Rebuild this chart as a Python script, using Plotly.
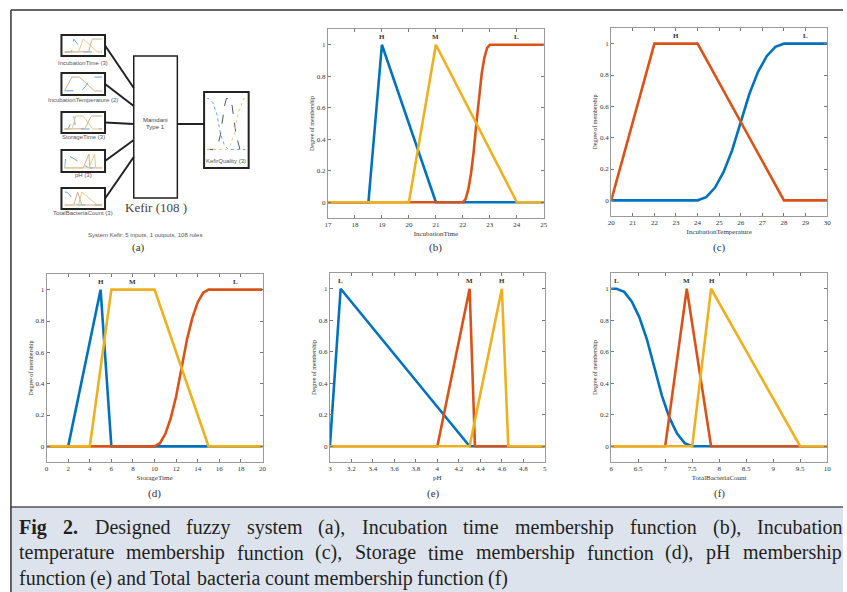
import plotly.graph_objects as go

# ---------------- data ----------------
# (b) IncubationTime
it_range = [17, 25]
it_ticks = [17, 18, 19, 20, 21, 22, 23, 24, 25]
it_ticktext = ["17", "18", "19", "20", "21", "22", "23", "24", "25"]
it_H_x = [17, 18.5, 19, 21, 25]
it_H_y = [0, 0, 1, 0, 0]
it_L_x = [17, 22, 22.1, 22.2, 22.3, 22.4, 22.5, 22.6, 22.7, 22.8, 22.9, 23, 25]
it_L_y = [0, 0, 0.02, 0.08, 0.18, 0.32, 0.5, 0.68, 0.82, 0.92, 0.98, 1, 1]
it_M_x = [17, 20, 21, 24, 25]
it_M_y = [0, 0, 1, 0, 0]
it_labels = ["H", "M", "L"]
it_label_x = [19, 21, 24]

# (c) IncubationTemperature
itemp_range = [20, 30]
itemp_ticks = [20, 21, 22, 23, 24, 25, 26, 27, 28, 29, 30]
itemp_ticktext = ["20", "21", "22", "23", "24", "25", "26", "27", "28", "29", "30"]
itemp_L_x = [20, 24, 24.4, 24.8, 25.2, 25.6, 26, 26.4, 26.8, 27.2, 27.6, 28, 30]
itemp_L_y = [0, 0, 0.02, 0.08, 0.18, 0.32, 0.5, 0.68, 0.82, 0.92, 0.98, 1, 1]
itemp_H_x = [20, 22, 24, 28, 30]
itemp_H_y = [0, 1, 1, 0, 0]
itemp_labels = ["H", "L"]
itemp_label_x = [23, 29]

# (d) StorageTime
st_range = [0, 20]
st_ticks = [0, 2, 4, 6, 8, 10, 12, 14, 16, 18, 20]
st_ticktext = ["0", "2", "4", "6", "8", "10", "12", "14", "16", "18", "20"]
st_H_x = [0, 2, 5, 6, 20]
st_H_y = [0, 0, 1, 0, 0]
st_L_x = [0, 10, 10.5, 11, 11.5, 12, 12.5, 13, 13.5, 14, 14.5, 15, 20]
st_L_y = [0, 0, 0.02, 0.08, 0.18, 0.32, 0.5, 0.68, 0.82, 0.92, 0.98, 1, 1]
st_M_x = [0, 4, 6, 10, 15, 20]
st_M_y = [0, 0, 1, 1, 0, 0]
st_labels = ["H", "M", "L"]
st_label_x = [5, 8, 17.5]

# (e) pH
ph_range = [3, 5]
ph_ticks = [3, 3.2, 3.4, 3.6, 3.8, 4, 4.2, 4.4, 4.6, 4.8, 5]
ph_ticktext = ["3", "3.2", "3.4", "3.6", "3.8", "4", "4.2", "4.4", "4.6", "4.8", "5"]
ph_L_x = [3, 3.1, 4.3, 5]
ph_L_y = [0, 1, 0, 0]
ph_M_x = [3, 4, 4.3, 4.35, 5]
ph_M_y = [0, 0, 1, 0, 0]
ph_H_x = [3, 4.3, 4.6, 4.66, 5]
ph_H_y = [0, 0, 1, 0, 0]
ph_labels = ["L", "M", "H"]
ph_label_x = [3.1, 4.3, 4.6]

# (f) TotalBacteriaCount
tb_range = [6, 10]
tb_ticks = [6, 6.5, 7, 7.5, 8, 8.5, 9, 9.5, 10]
tb_ticktext = ["6", "6.5", "7", "7.5", "8", "8.5", "9", "9.5", "10"]
tb_L_x = [6, 6.1, 6.24, 6.38, 6.52, 6.66, 6.8, 6.94, 7.08, 7.22, 7.36, 7.5, 10]
tb_L_y = [1, 1, 0.98, 0.92, 0.82, 0.68, 0.5, 0.32, 0.18, 0.08, 0.02, 0, 0]
tb_M_x = [6, 7, 7.4, 7.85, 10]
tb_M_y = [0, 0, 1, 0, 0]
tb_H_x = [6, 7.5, 7.85, 9.5, 10]
tb_H_y = [0, 0, 1, 0, 0]
tb_labels = ["L", "M", "H"]
tb_label_x = [6.1, 7.4, 7.86]

# KefirQuality (output thumbnail in panel a)
kq_range = [0, 10]
kq_low_x = [0, 0.5, 1.5, 2.5, 3.5, 4.5, 5.5, 10]
kq_low_y = [1, 1, 0.92, 0.7, 0.3, 0.08, 0, 0]
kq_mid_x = [0, 2.5, 3.5, 4.5, 5, 6, 6.5, 7.5, 8.5, 10]
kq_mid_y = [0, 0, 0.3, 0.85, 1, 1, 0.85, 0.3, 0, 0]
kq_high_x = [0, 5, 6, 7, 8, 9, 9.5, 10]
kq_high_y = [0, 0, 0.08, 0.3, 0.7, 0.92, 1, 1]

y_ticks = [0, 0.2, 0.4, 0.6, 0.8, 1]
y_ticktext = ["0", "0.2", "0.4", "0.6", "0.8", "1"]

input_names = ["IncubationTime (3)", "IncubationTemperature (2)", "StorageTime (3)",
               "pH (3)", "TotalBacteriaCount (3)"]
output_name = "KefirQuality (3)"

caption_lines = [
    ["Fig", "2.", "Designed", "fuzzy", "system", "(a),", "Incubation", "time",
     "membership", "function", "(b),", "Incubation"],
    ["temperature", "membership", "function", "(c),", "Storage", "time", "membership",
     "function", "(d),", "pH", "membership"],
    ["function", "(e)", "and", "Total", "bacteria", "count", "membership", "function", "(f)"],
]

# ---------------- styling / geometry ----------------
W, H = 847, 592
BLUE, ORANGE, YELLOW = "#0072BD", "#D95319", "#EDB120"
SERIF = "Liberation Serif"
SANS = "Liberation Sans"


def px(x):
    return x / W


def py(y):
    return 1 - y / H


def note(x, y, text, font, **kw):
    d = dict(x=px(x), y=py(y), xref="paper", yref="paper", text=text, showarrow=False,
             xanchor="center", yanchor="middle", font=font)
    d.update(kw)
    return d


fig = go.Figure()

panels = [
    dict(box=(327, 545, 29, 218), xr=it_range, tv=it_ticks, tt=it_ticktext, title="IncubationTime",
         series=[(it_H_x, it_H_y, BLUE), (it_L_x, it_L_y, ORANGE), (it_M_x, it_M_y, YELLOW)],
         labels=it_labels, lx=it_label_x, tag="(b)", tagpos=(436, 248)),
    dict(box=(613, 831, 28, 216), xr=itemp_range, tv=itemp_ticks, tt=itemp_ticktext,
         title="IncubationTemperature",
         series=[(itemp_L_x, itemp_L_y, BLUE), (itemp_H_x, itemp_H_y, ORANGE)],
         labels=itemp_labels, lx=itemp_label_x, tag="(c)", tagpos=(722, 248)),
    dict(box=(43, 261, 274, 462), xr=st_range, tv=st_ticks, tt=st_ticktext, title="StorageTime",
         series=[(st_H_x, st_H_y, BLUE), (st_L_x, st_L_y, ORANGE), (st_M_x, st_M_y, YELLOW)],
         labels=st_labels, lx=st_label_x, tag="(d)", tagpos=(152, 493)),
    dict(box=(329, 546, 273, 462), xr=ph_range, tv=ph_ticks, tt=ph_ticktext, title="pH",
         series=[(ph_L_x, ph_L_y, BLUE), (ph_M_x, ph_M_y, ORANGE), (ph_H_x, ph_H_y, YELLOW)],
         labels=ph_labels, lx=ph_label_x, tag="(e)", tagpos=(434, 493)),
    dict(box=(613, 831, 273, 462), xr=tb_range, tv=tb_ticks, tt=tb_ticktext, title="TotalBacteriaCount",
         series=[(tb_L_x, tb_L_y, BLUE), (tb_M_x, tb_M_y, ORANGE), (tb_H_x, tb_H_y, YELLOW)],
         labels=tb_labels, lx=tb_label_x, tag="(f)", tagpos=(722, 493)),
]

layout = dict(
    width=W, height=H, margin=dict(l=0, r=0, t=0, b=0),
    paper_bgcolor="white", plot_bgcolor="white", showlegend=False,
)
annotations = []
shapes = []

tickfont = dict(family=SERIF, size=7, color="#333")
axis_common = dict(ticks="inside", ticklen=3, tickwidth=1, tickcolor="#777", showline=True,
                   linecolor="#9a9a9a", linewidth=1, mirror="ticks", showgrid=False,
                   zeroline=False, tickfont=tickfont, fixedrange=True)

for i, p in enumerate(panels, start=1):
    xn = "x" if i == 1 else f"x{i}"
    yn = "y" if i == 1 else f"y{i}"
    x0, x1, y0, y1 = p["box"]
    layout["xaxis" if i == 1 else f"xaxis{i}"] = dict(
        domain=[px(x0), px(x1)], range=p["xr"], anchor=yn, tickmode="array",
        tickvals=p["tv"], ticktext=p["tt"],
        title=dict(text=p["title"], font=dict(family=SERIF, size=7, color="#333"), standoff=2),
        **axis_common)
    layout["yaxis" if i == 1 else f"yaxis{i}"] = dict(
        domain=[py(y1), py(y0)], range=[-0.1, 1.1], anchor=xn, tickmode="array",
        tickvals=y_ticks, ticktext=y_ticktext,
        title=dict(text="Degree of membership", font=dict(family=SERIF, size=6, color="#333"), standoff=1),
        **axis_common)
    for sx, sy, col in p["series"]:
        fig.add_trace(go.Scatter(x=sx, y=sy, mode="lines", xaxis=xn, yaxis=yn,
                                 line=dict(color=col, width=2.6), hoverinfo="skip"))
    for lab, lxv in zip(p["labels"], p["lx"]):
        annotations.append(dict(x=lxv, y=1.05, xref=xn, yref=yn, text=f"<b>{lab}</b>",
                                xanchor="center", yanchor="middle",
                                showarrow=False, font=dict(family=SERIF, size=7, color="#333")))
    annotations.append(note(p["tagpos"][0], p["tagpos"][1], p["tag"],
                            dict(family=SERIF, size=11, color="#333")))

# ---------------- panel (a): FIS diagram ----------------
in_boxes = [(35, 56), (73, 95), (112, 133), (150, 172), (188, 209)]
in_label_y = [63, 100, 137, 175, 213]
thumb_series = [
    [(it_H_x, it_H_y), (it_L_x, it_L_y), (it_M_x, it_M_y)],
    [(itemp_L_x, itemp_L_y), (itemp_H_x, itemp_H_y)],
    [(st_H_x, st_H_y), (st_L_x, st_L_y), (st_M_x, st_M_y)],
    [(ph_L_x, ph_L_y), (ph_M_x, ph_M_y), (ph_H_x, ph_H_y)],
    [(tb_L_x, tb_L_y), (tb_M_x, tb_M_y), (tb_H_x, tb_H_y)],
]
thumb_ranges = [it_range, itemp_range, st_range, ph_range, tb_range]
thumb_styles = [("#6aa3d3", "dash"), ("#cfae8c", "solid"), ("#e0cb8c", "solid")]
conn_end_y = [88, 106, 124, 140, 157]

ax = 6
for k, (top, bot) in enumerate(in_boxes):
    xn, yn = f"x{ax}", f"y{ax}"
    layout[f"xaxis{ax}"] = dict(domain=[px(61), px(99)], range=thumb_ranges[k], anchor=yn,
                               visible=False, fixedrange=True)
    layout[f"yaxis{ax}"] = dict(domain=[py(bot - 3), py(top + 3)], range=[-0.08, 1.08], anchor=xn,
                               visible=False, fixedrange=True)
    for j, (sx, sy) in enumerate(thumb_series[k]):
        c, d = thumb_styles[j]
        fig.add_trace(go.Scatter(x=sx, y=sy, mode="lines", xaxis=xn, yaxis=yn,
                                 line=dict(color=c, width=1, dash=d), hoverinfo="skip"))
    shapes.append(dict(type="rect", xref="paper", yref="paper", x0=px(58), x1=px(102),
                       y0=py(bot), y1=py(top), line=dict(color="#222", width=2)))
    mid = (top + bot) / 2
    shapes.append(dict(type="line", xref="paper", yref="paper", x0=px(102), x1=px(131),
                       y0=py(mid), y1=py(conn_end_y[k]), line=dict(color="#222", width=2)))
    annotations.append(note(80, in_label_y[k], input_names[k], dict(family=SANS, size=6, color="#555")))
    ax += 1

# output thumbnail
xn, yn = f"x{ax}", f"y{ax}"
layout[f"xaxis{ax}"] = dict(domain=[px(205), px(244)], range=kq_range, anchor=yn,
                           visible=False, fixedrange=True)
layout[f"yaxis{ax}"] = dict(domain=[py(152), py(96)], range=[-0.05, 1.05], anchor=xn,
                           visible=False, fixedrange=True)
for (sx, sy), (c, d) in zip([(kq_low_x, kq_low_y), (kq_mid_x, kq_mid_y), (kq_high_x, kq_high_y)],
                            [("#6aa3d3", "dot"), ("#555555", "dash"), ("#e0cb8c", "dot")]):
    fig.add_trace(go.Scatter(x=sx, y=sy, mode="lines", xaxis=xn, yaxis=yn,
                             line=dict(color=c, width=1, dash=d), hoverinfo="skip"))
shapes.append(dict(type="rect", xref="paper", yref="paper", x0=px(202), x1=px(247),
                   y0=py(168), y1=py(92), line=dict(color="#222", width=2)))
annotations.append(note(224.5, 161, output_name, dict(family=SANS, size=6, color="#555")))

# central Mamdani box
shapes.append(dict(type="rect", xref="paper", yref="paper", x0=px(131), x1=px(175),
                   y0=py(198), y1=py(56), line=dict(color="#222", width=1.5)))
shapes.append(dict(type="line", xref="paper", yref="paper", x0=px(175), x1=px(202),
                   y0=py(124), y1=py(124), line=dict(color="#222", width=2)))
annotations += [
    note(153, 120, "Mamdani", dict(family=SANS, size=6, color="#444")),
    note(153, 127, "Type 1", dict(family=SANS, size=6, color="#444")),
    note(153, 207, "Kefir (108 )", dict(family=SERIF, size=13, color="#444")),
    note(142, 235, "System Kefir: 5 inputs, 1 outputs, 108 rules", dict(family=SANS, size=6, color="#555")),
    note(136, 248, "(a)", dict(family=SERIF, size=11, color="#333")),
]

# ---------------- frame and caption ----------------
shapes += [
    dict(type="rect", xref="paper", yref="paper", x0=px(7), x1=1, y0=0, y1=py(507),
         fillcolor="#dde3ed", line=dict(width=0), layer="below"),
    dict(type="line", xref="paper", yref="paper", x0=px(7), x1=1, y0=py(507), y1=py(507),
         line=dict(color="#555", width=1.5)),
    dict(type="line", xref="paper", yref="paper", x0=px(7), x1=1, y0=py(10), y1=py(10),
         line=dict(color="#333", width=1.5)),
    dict(type="line", xref="paper", yref="paper", x0=px(7), x1=px(7), y0=0, y1=py(10),
         line=dict(color="#333", width=1.5)),
]

# Times-compatible advance widths (per 1000 em) for justification
TNR = {' ': 250, '(': 333, ')': 333, ',': 250, '.': 250, '2': 500, 'a': 444, 'b': 500, 'c': 444,
       'd': 500, 'e': 444, 'f': 333, 'g': 500, 'h': 500, 'i': 278, 'l': 278, 'm': 778, 'n': 500,
       'o': 500, 'p': 500, 'r': 333, 's': 389, 't': 278, 'u': 500, 'y': 500, 'z': 444, 'D': 722,
       'F': 556, 'H': 722, 'I': 333, 'S': 556, 'T': 611}
TNRB = {'F': 611, 'i': 278, 'g': 500, '2': 500, '.': 250}
FS = 20
cap_centers = [527, 552.5, 578]
cap_bounds = [(15, 846), (15, 845), None]


def wordw(w, bold):
    t = TNRB if bold else TNR
    return sum(t.get(c, 500) for c in w) / 1000 * FS


for li, words in enumerate(caption_lines):
    bolds = [li == 0 and wi < 2 for wi in range(len(words))]
    widths = [wordw(w, b) for w, b in zip(words, bolds)]
    if cap_bounds[li] is None:
        gap = 0.25 * FS
        left = 15
    else:
        left, right = cap_bounds[li]
        gap = (right - left - sum(widths)) / (len(words) - 1)
    xpos = left
    for w, b, wd in zip(words, bolds, widths):
        annotations.append(note(xpos, cap_centers[li], f"<b>{w}</b>" if b else w,
                                dict(family=SERIF, size=FS, color="#231f20"),
                                xanchor="left", borderpad=0, borderwidth=0))
        xpos += wd + gap

layout["annotations"] = annotations
layout["shapes"] = shapes
fig.update_layout(**layout)
fig.write_html(
    "out.html",
    config={"displayModeBar": False, "staticPlot": True},
    post_script="document.body.style.margin='0';document.body.style.padding='0';"
                "document.body.style.overflow='hidden';",
)
